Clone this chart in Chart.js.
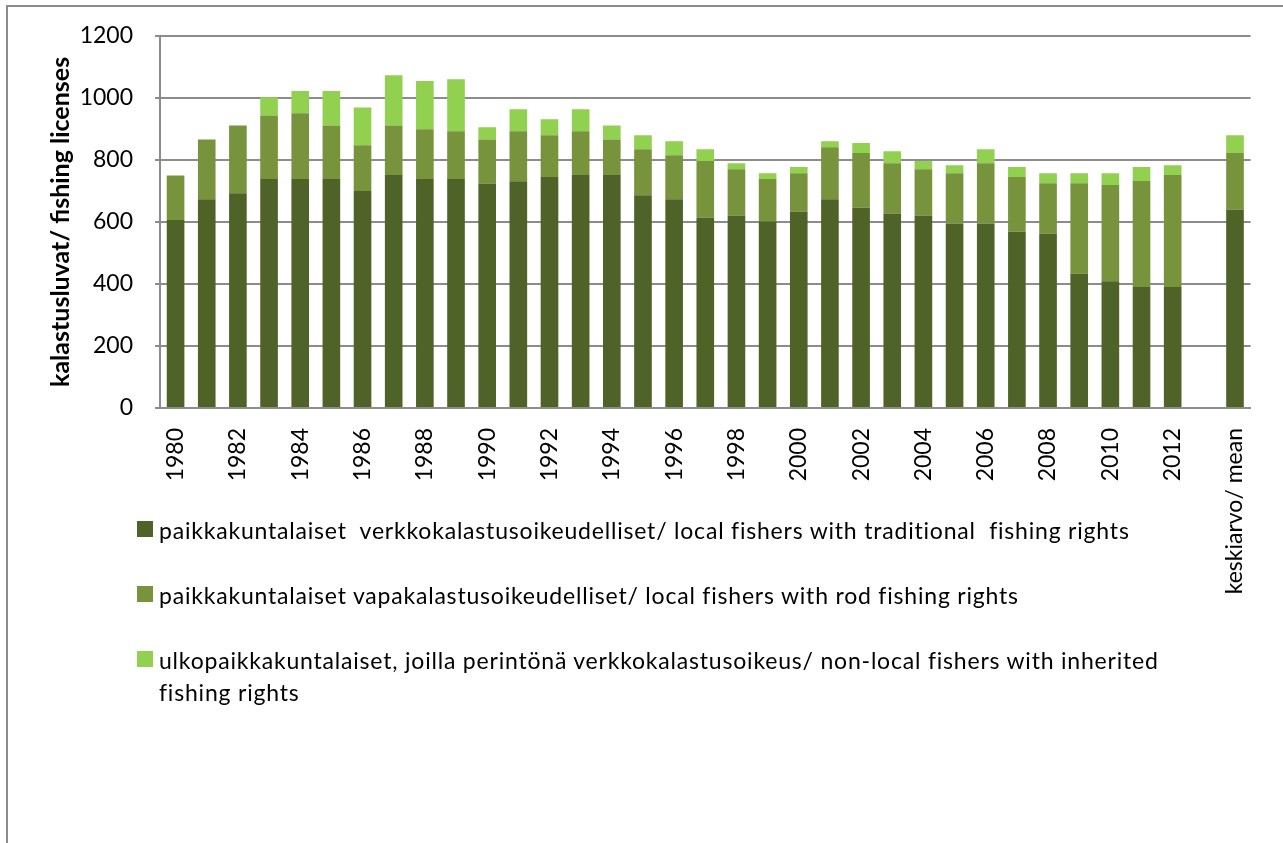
<!DOCTYPE html>
<html>
<head>
<meta charset="utf-8">
<script src="https://cdn.jsdelivr.net/npm/chart.js@4"></script>
<style>
  html,body{margin:0;padding:0;background:#fff;}
  body{width:1283px;height:843px;position:relative;overflow:hidden;font-family:Lato,'Liberation Sans',sans-serif;}
  .frame{position:absolute;left:6px;top:5px;right:0;bottom:0;border-left:2px solid #8c8c8c;border-top:2px solid #8c8c8c;}
  #chart-wrap{position:absolute;left:0;top:0;width:1283px;height:843px;}
  .legend{position:absolute;left:137px;top:514px;width:1050px;}
  .lg-row{position:relative;padding-left:22px;font-size:23px;letter-spacing:0.8px;line-height:32px;color:#000;margin-bottom:33px;white-space:pre-wrap;}
  .lg-row .sw{position:absolute;left:0;top:7px;width:16px;height:16px;}
</style>
</head>
<body>
<div class="frame"></div>
<div id="chart-wrap"><canvas id="c" width="1283" height="843"></canvas></div>
<div class="legend" id="legend"></div>
<script>
'use strict';

/* ── data ── */
const categories=['1980','1981','1982','1983','1984','1985','1986','1987','1988','1989',
  '1990','1991','1992','1993','1994','1995','1996','1997','1998','1999',
  '2000','2001','2002','2003','2004','2005','2006','2007','2008','2009',
  '2010','2011','2012','','keskiarvo/ mean'];

// local fishers, traditional (net) fishing rights
const localNet=[606,673,692,738,738,738,700,751,738,738,
  724,731,745,751,751,686,673,613,621,601,
  633,673,646,627,621,595,595,568,562,433,
  409,390,390,null,640];

// local fishers, rod fishing rights
const localRod=[144,193,219,205,212,173,147,160,161,154,
  142,161,134,141,115,148,142,183,149,137,
  124,168,176,162,149,162,194,177,163,292,
  310,342,361,null,182];

// non-local fishers, inherited rights
const nonLocal=[0,0,0,59,72,111,122,162,155,168,
  39,71,52,71,45,45,45,38,19,19,
  20,19,32,39,26,26,45,32,32,32,
  38,45,32,null,57];

const yTicks=[0,200,400,600,800,1000,1200];

const seriesNames=[
  'paikkakuntalaiset  verkkokalastusoikeudelliset/ local fishers with traditional  fishing rights',
  'paikkakuntalaiset vapakalastusoikeudelliset/ local fishers with rod fishing rights',
  'ulkopaikkakuntalaiset, joilla perintönä verkkokalastusoikeus/ non-local fishers with inherited fishing rights'
];
const seriesColors=['#4F6228','#77933C','#92D050'];

/* ── chart ── */
const FONT='Lato';
const GRID='#8c8c8c';

new Chart(document.getElementById('c'),{
  type:'bar',
  data:{
    labels:categories,
    datasets:[localNet,localRod,nonLocal].map((d,i)=>({
      label:seriesNames[i],
      data:d,
      backgroundColor:seriesColors[i],
      borderWidth:0,
      categoryPercentage:1,
      barPercentage:0.566
    }))
  },
  options:{
    responsive:false,
    animation:false,
    layout:{padding:{left:45,right:28,top:34,bottom:0}},
    plugins:{legend:{display:false},tooltip:{enabled:false}},
    scales:{
      x:{
        stacked:true,
        grid:{display:false,drawTicks:false},
        border:{display:true,color:GRID,width:2},
        ticks:{
          autoSkip:false,minRotation:90,maxRotation:90,padding:20,
          color:'#000',font:{family:FONT,size:23},
          callback:(v,i)=>i%2===0?categories[i]:''
        },
        afterFit(s){s.height=435;}
      },
      y:{
        stacked:true,
        min:0,max:1200,
        afterBuildTicks(s){s.ticks=yTicks.map(v=>({value:v}));},
        grid:{color:GRID,lineWidth:2,tickLength:5},
        border:{display:true,color:GRID,width:2},
        ticks:{padding:22,color:'#000',font:{family:FONT,size:23},callback:v=>String(v)},
        title:{display:true,text:'kalastusluvat/ fishing licenses',color:'#000',
          font:{family:FONT,size:25,weight:'bold'},padding:{top:1,bottom:4}},
        afterFit(s){s.width=115;}
      }
    }
  }
});

/* ── legend ── */
document.getElementById('legend').innerHTML=seriesNames.map((n,i)=>
  `<div class="lg-row"><span class="sw" style="background:${seriesColors[i]}"></span>${n}</div>`).join('');
</script>
</body>
</html>
